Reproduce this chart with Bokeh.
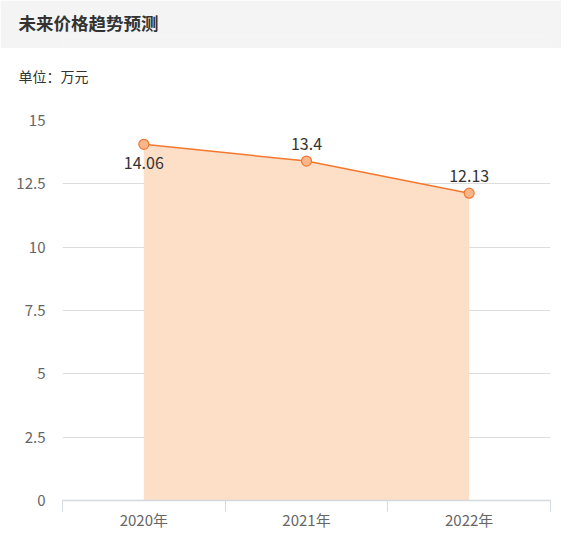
from bokeh.plotting import figure
from bokeh.layouts import column
from bokeh.models import FixedTicker, ColumnDataSource, Range1d, Title
from bokeh.core.properties import value
from bokeh.embed import file_html
from bokeh.resources import INLINE

years = ["2020年", "2021年", "2022年"]
prices = [14.06, 13.4, 12.13]
y_ticks = [0, 2.5, 5, 7.5, 10, 12.5, 15]
y_tick_labels = ["0", "2.5", "5", "7.5", "10", "12.5", "15"]
label_pos = ["below", "above", "above"]

FONT = "Noto Sans CJK SC"
LINE = "#f3782f"
FILL = "#fddcc3"
W = 561


def text_strip(height, text, size, bold, bg, top):
    # an empty figure that only carries a left aligned title
    f = figure(width=W, height=height, output_backend="svg", toolbar_location=None,
               x_range=Range1d(0, 1), y_range=Range1d(0, 1),
               min_border_left=62, min_border_right=11, min_border_top=top,
               min_border_bottom=0, x_axis_type=None, y_axis_type=None)
    f.outline_line_color = None
    f.background_fill_color = bg
    f.border_fill_color = bg
    f.grid.visible = False
    f.title = Title(text=text, align="left", offset=-44, standoff=3,
                    text_font=FONT, text_font_size=size,
                    text_font_style="bold" if bold else "normal",
                    text_color="#333333")
    return f


head = text_strip(48, "未来价格趋势预测", "17.5px", True, "#f4f4f4", 36)
unit = text_strip(50, "单位：万元", "14px", False, "white", 39)

xs = [i + 0.5 for i in range(len(years))]
src = ColumnDataSource(dict(x=xs, y=prices,
                            txt=[str(v) for v in prices],
                            off=[19 if s == "below" else -17 for s in label_pos]))

p = figure(width=W, height=442, output_backend="svg", toolbar_location=None,
           x_range=Range1d(0, len(years)), y_range=Range1d(0, 15),
           min_border_left=62, min_border_right=11, min_border_top=22,
           min_border_bottom=40)
p.outline_line_color = None

p.varea(x="x", y1=0, y2="y", source=src, fill_color=FILL, fill_alpha=0.95)
p.line(x="x", y="y", source=src, line_color=LINE, line_width=1.5)
p.scatter(x="x", y="y", source=src, size=10, fill_color="#f9b68c",
          line_color=LINE, line_width=1.2)
p.text(x="x", y="y", text="txt", y_offset="off", source=src, text_align="center",
       text_baseline="middle", text_font=value(FONT), text_font_size="16px",
       text_color="#333333")

# y axis
p.yaxis.ticker = FixedTicker(ticks=y_ticks)
p.yaxis.major_label_overrides = dict(zip(y_ticks, y_tick_labels))
p.yaxis.axis_line_color = None
p.yaxis.major_tick_line_color = None
p.yaxis.minor_tick_line_color = None
p.yaxis.major_tick_out = 0
p.yaxis.minor_tick_out = 0
p.yaxis.major_label_standoff = 17
p.yaxis.major_label_text_font = FONT
p.yaxis.major_label_text_font_size = "15px"
p.yaxis.major_label_text_color = "#666666"

# x axis: labels at centres, ticks at boundaries
p.xaxis.ticker = FixedTicker(ticks=xs, minor_ticks=list(range(len(years) + 1)))
p.xaxis.major_label_overrides = dict(zip(xs, years))
p.xaxis.axis_line_color = "#d4d9e0"
p.xaxis.axis_line_width = 1.5
p.xaxis.major_tick_line_color = None
p.xaxis.major_tick_out = 0
p.xaxis.major_tick_in = 0
p.xaxis.minor_tick_line_color = "#d4d9e0"
p.xaxis.minor_tick_out = 11
p.xaxis.minor_tick_in = 0
p.xaxis.major_label_standoff = -3
p.xaxis.major_label_text_font = FONT
p.xaxis.major_label_text_font_size = "15px"
p.xaxis.major_label_text_color = "#666666"

p.xgrid.grid_line_color = None
p.ygrid.grid_line_color = "#dddddd"

layout = column(head, unit, p, spacing=0)
open("out.html", "w").write(file_html(layout, INLINE))
